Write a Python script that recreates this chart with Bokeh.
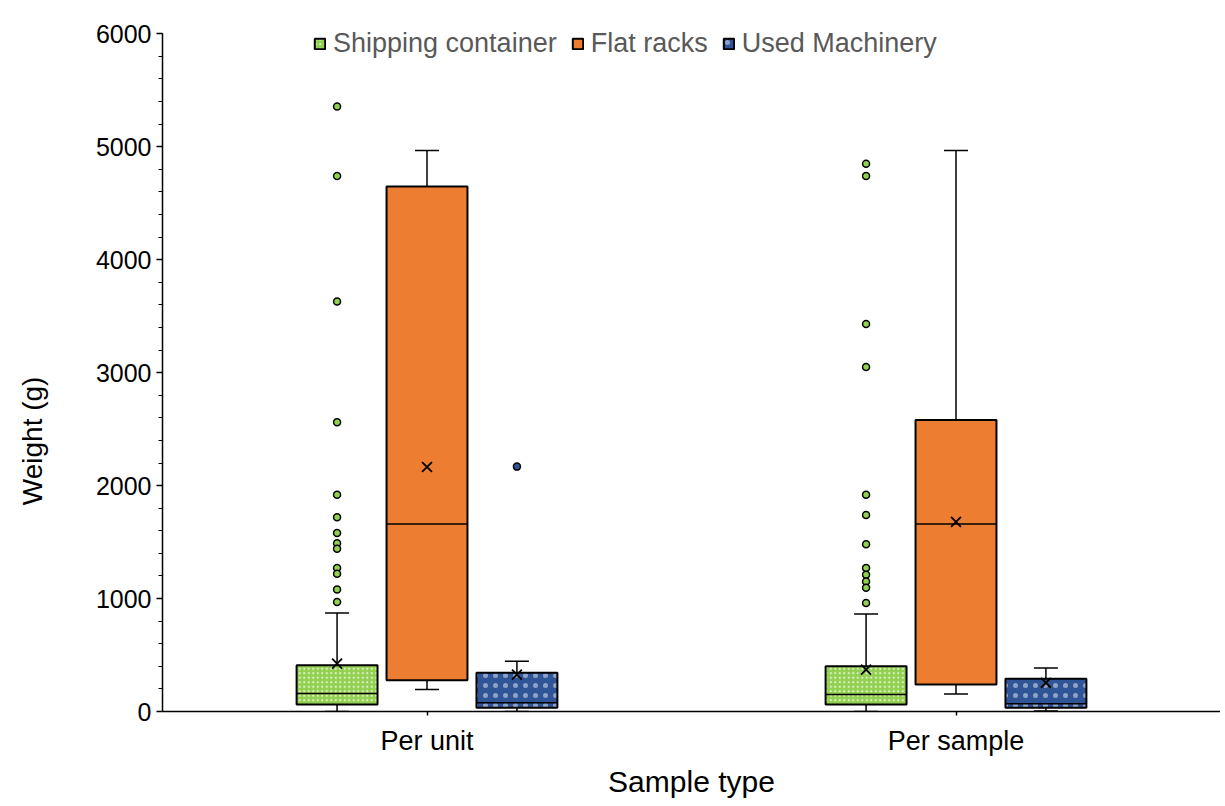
from bokeh.plotting import figure
from bokeh.models import (ColumnDataSource, FactorRange, Range1d, Legend, LegendItem,
                          SingleIntervalTicker, LinearAxis, FixedTicker)
from bokeh.transform import dodge
from bokeh.embed import file_html
from bokeh.resources import INLINE

# ---------------- data ----------------
categories = ["Per unit", "Per sample"]
series = ["Shipping container", "Flat racks", "Used Machinery"]

ship_min = [0, 0]
ship_q1 = [62, 62]
ship_median = [159, 150]
ship_q3 = [409, 400]
ship_max = [872, 863]
ship_mean = [424, 371]
ship_out_unit = [5357, 4740, 3630, 2560, 1920, 1720, 1580, 1490, 1440, 1270, 1220, 1080, 970]
ship_out_sample = [4850, 4740, 3430, 3050, 1920, 1740, 1480, 1270, 1210, 1150, 1095, 960]

flat_min = [194, 156]
flat_q1 = [277, 239]
flat_median = [1661, 1661]
flat_q3 = [4648, 2580]
flat_max = [4966, 4966]
flat_mean = [2165, 1679]
flat_out_unit = []
flat_out_sample = []

mach_min = [0, 5]
mach_q1 = [33, 33]
mach_median = [77, 68]
mach_q3 = [342, 289]
mach_max = [445, 386]
mach_mean = [327, 254]
mach_out_unit = [2168]
mach_out_sample = []

colors = ["#92D050", "#ED7D31", "#2F5597"]
offsets = [-0.17, 0.0, 0.17]
box_w = 0.153
hatches = [dict(hatch_pattern="dot", hatch_color="white", hatch_scale=4.5, hatch_weight=1.5, hatch_alpha=0.7),
           dict(),
           dict(hatch_pattern="dot", hatch_color="white", hatch_scale=10, hatch_weight=1, hatch_alpha=0.45)]

FONT = "Liberation Sans"

p = figure(width=1220, height=800, output_backend="svg", toolbar_location=None,
           x_range=FactorRange(factors=categories, range_padding=0),
           y_range=Range1d(0, 6100),
           min_border_left=162, min_border_right=0, min_border_top=22, min_border_bottom=88)
p.outline_line_color = None
p.xgrid.grid_line_color = None
p.ygrid.grid_line_color = None
p.background_fill_color = "white"
p.border_fill_color = "white"

stats = [
    (ship_min, ship_q1, ship_median, ship_q3, ship_max, ship_mean, ship_out_unit, ship_out_sample),
    (flat_min, flat_q1, flat_median, flat_q3, flat_max, flat_mean, flat_out_unit, flat_out_sample),
    (mach_min, mach_q1, mach_median, mach_q3, mach_max, mach_mean, mach_out_unit, mach_out_sample),
]

legend_items = []
for i, (mn, q1, md, q3, mx, me, ou, osa) in enumerate(stats):
    src = ColumnDataSource(dict(cat=categories, lo=mn, q1=q1, med=md, q3=q3, hi=mx, mean=me))
    off = offsets[i]
    xc = dodge("cat", off, range=p.x_range)
    xl = dodge("cat", off - box_w / 2, range=p.x_range)
    xr = dodge("cat", off + box_w / 2, range=p.x_range)
    # whiskers
    p.segment(x0=xc, y0="q3", x1=xc, y1="hi", source=src, line_color="black", line_width=1.5)
    p.segment(x0=xc, y0="q1", x1=xc, y1="lo", source=src, line_color="black", line_width=1.5)
    p.scatter(x=xc, y="hi", source=src, marker="dash", size=24, line_color="black", line_width=1.5)
    p.scatter(x=xc, y="lo", source=src, marker="dash", size=24, line_color="black", line_width=1.5)
    # box
    r = p.vbar(x=xc, width=box_w, bottom="q1", top="q3", source=src, fill_color=colors[i],
               line_color="black", line_width=2, **hatches[i])
    legend_items.append(LegendItem(label=series[i], renderers=[r]))
    # median
    p.segment(x0=xl, y0="med", x1=xr, y1="med", source=src, line_color="black", line_width=1.5)
    # mean
    p.scatter(x=xc, y="mean", source=src, marker="x", size=14, line_color="black", line_width=1.8)
    # outliers
    ocat = [categories[0]] * len(ou) + [categories[1]] * len(osa)
    osrc = ColumnDataSource(dict(cat=ocat, y=list(ou) + list(osa)))
    p.scatter(x=xc, y="y", source=osrc, marker="circle", size=7, fill_color=colors[i],
              line_color="black", line_width=1.5)

legend = Legend(items=legend_items, orientation="horizontal", location=(151, 652),
                border_line_color=None, background_fill_alpha=0, padding=0, margin=0,
                spacing=14, label_standoff=7, glyph_width=13, glyph_height=13,
                label_text_font=FONT, label_text_font_size="27px", label_text_color="#595959",
                label_height=30)
p.add_layout(legend, "center")

# axes
ya = p.yaxis[0]
ya.ticker = SingleIntervalTicker(interval=1000, num_minor_ticks=5)
ya.bounds = (0, 6000)
ya.axis_line_color = "black"
ya.axis_line_width = 1.5
ya.major_tick_line_width = 1.5
ya.minor_tick_line_width = 1.2
ya.major_tick_in = 0
ya.major_tick_out = 6
ya.minor_tick_in = 0
ya.minor_tick_out = 4
ya.major_label_text_font = FONT
ya.major_label_text_font_size = "25px"
ya.major_label_text_color = "black"
ya.major_label_standoff = 5

# bare outer axis that carries the y title; trailing no-break spaces lower the visible text
ya2 = LinearAxis(ticker=FixedTicker(ticks=[]),
                 axis_line_color=None, major_tick_line_color=None, minor_tick_line_color=None,
                 major_tick_in=0, major_tick_out=0, minor_tick_in=0, minor_tick_out=0,
                 major_label_standoff=0, major_label_text_color=None,
                 axis_label="Weight (g)" + "\u00a0" * 19, axis_label_text_font=FONT,
                 axis_label_text_font_size="28px", axis_label_text_font_style="normal",
                 axis_label_text_color="black", axis_label_standoff=45)
p.add_layout(ya2, "left")

xa = p.xaxis[0]
xa.axis_line_color = "black"
xa.axis_line_width = 1.5
xa.major_tick_in = 0
xa.major_tick_out = 4
xa.major_tick_line_width = 1.5
xa.minor_tick_line_color = None
xa.major_label_text_font = FONT
xa.major_label_text_font_size = "27px"
xa.major_label_text_color = "black"
xa.major_label_standoff = 10
xa.axis_label = "Sample type"
xa.axis_label_text_font = FONT
xa.axis_label_text_font_size = "30px"
xa.axis_label_text_font_style = "normal"
xa.axis_label_text_color = "black"
xa.axis_label_standoff = 6

open("out.html", "w").write(file_html(p, INLINE))
